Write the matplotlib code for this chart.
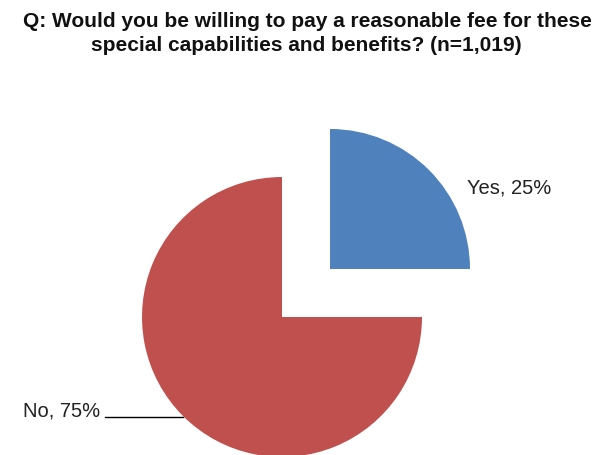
import numpy as np
import matplotlib
matplotlib.use("Agg")
import matplotlib.pyplot as plt

plt.rcParams["font.family"] = ["Liberation Sans", "DejaVu Sans"]

# Survey answers
answers = ["Yes", "No"]
shares = [25, 75]
colors = ["#4F81BD", "#C0504D"]
explode = [0.485, 0]

title_lines = ["Q: Would you be willing to pay a reasonable fee for these",
               "special capabilities and benefits? (n=1,019)"]

fig = plt.figure(figsize=(6, 4.55), dpi=100)
ax = fig.add_axes([0, 0, 1, 1])

ax.pie(shares, colors=colors, explode=explode, startangle=90,
       counterclock=False, radius=1, center=(0, 0),
       wedgeprops=dict(linewidth=0))

# pie of radius 1 centred at the origin, 140 px per unit
# (limits set after pie(), which resets them)
scale = 140.0
ax.set_xlim(-282 / scale, 318 / scale)
ax.set_ylim(-138 / scale, 317 / scale)
ax.set_aspect("auto")
ax.axis("off")

labels = [f"{a}, {s}%" for a, s in zip(answers, shares)]
ax.text(1.321, 0.879, labels[0], fontsize=14.5, ha="left", va="baseline",
        color="#222222")
ax.text(-1.30, -0.714, labels[1], fontsize=14.5, ha="right", va="baseline",
        color="#222222")
# leader line for the No slice
ax.plot([-1.265, -0.707], [-0.714, -0.714], color="black", linewidth=1)

fig.text(0.513, 0.9407, title_lines[0], ha="center", va="baseline",
         fontsize=15, fontweight="bold", color="#111111")
fig.text(0.51, 0.8879, title_lines[1], ha="center", va="baseline",
         fontsize=15, fontweight="bold", color="#111111")

fig.savefig("out.png", dpi=100)
